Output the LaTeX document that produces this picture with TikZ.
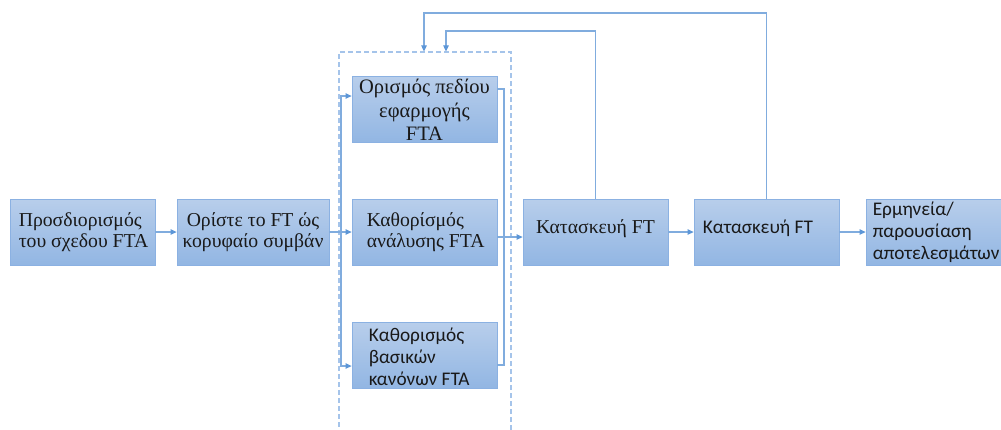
\documentclass[tikz,border=0pt]{standalone}
\usepackage{fontspec}
\setmainfont{Liberation Serif}
\newfontfamily\calfont{Carlito}
\usetikzlibrary{arrows.meta,calc}

\definecolor{boxtop}{RGB}{184,206,235}
\definecolor{boxbot}{RGB}{146,182,227}
\definecolor{boxedge}{RGB}{139,177,226}
\definecolor{wire}{RGB}{128,172,222}
\definecolor{tipc}{RGB}{92,150,215}
\definecolor{dashc}{RGB}{165,196,234}
\definecolor{ink}{RGB}{25,25,25}

\tikzset{
  stepbox/.style={draw=boxedge, line width=0.8pt, top color=boxtop, bottom color=boxbot,
    minimum width=145pt, minimum height=66pt, inner sep=0pt},
  label serif/.style={inner sep=0pt, text=ink, font=\fontsize{19.7}{21.5}\selectfont},
  label sans/.style={inner sep=0pt, text=ink, font=\calfont\fontsize{19.3}{22}\selectfont},
  wireline/.style={draw=wire, line width=1.1pt},
  arr/.style={wireline, -{Triangle[length=6pt,width=5.5pt,color=tipc,fill=tipc]}},
  groupbox/.style={draw=dashc, line width=1.2pt, dash pattern=on 5pt off 3pt,
    minimum width=172pt, minimum height=390pt, inner sep=0pt}
}

\begin{document}
\begin{tikzpicture}[x=1pt,y=-1pt]
\useasboundingbox (0,0) rectangle (1001,429);

% dashed frame around the three definition steps
\node[groupbox] (grp) at (425,247) {};

% process boxes
\node[stepbox] (A) at (82.5,232) {};
\node[stepbox, minimum width=152pt] (B) at (253,232) {};
\node[stepbox] (C1) at (424.5,109) {};
\node[stepbox] (C2) at (424.5,232) {};
\node[stepbox] (C3) at (424.5,355) {};
\node[stepbox] (D) at (595.5,232) {};
\node[stepbox] (E) at (766.5,232) {};
\node[stepbox, minimum width=150pt] (F) at (941,232) {};

% box texts
\node[label serif, anchor=west, align=left] (At) at ([xshift=9pt]A.west)
  {Προσδιορισμός\\του σχεδου FTA};
\node[label serif, align=center] (Bt) at (B.center)
  {Ορίστε το FT ώς\\κορυφαίο συμβάν};
\node[label serif, align=center, font=\fontsize{20.5}{23.5}\selectfont] (C1t) at ([yshift=-1pt]C1.center)
  {Ορισμός πεδίου\\εφαρμογής\\FTA};
\node[label serif, anchor=west, align=left] (C2t) at ([xshift=15pt]C2.west)
  {Καθορίσμός\\ανάλυσης FTA};
\node[label sans, anchor=west, align=left] (C3t) at ([xshift=17pt,yshift=-2pt]C3.west)
  {Καθορισμός\\βασικών\\κανόνων FTA};
\node[label serif] (Dt) at ([yshift=3pt]D.center) {Κατασκευή FT};
\node[label sans, anchor=west] (Et) at ([xshift=9pt,yshift=4pt]E.west) {Κατασκευή FT};
\node[label sans, anchor=west, align=left] (Ft) at ([xshift=7pt]F.west)
  {Ερμηνεία/\\παρουσίαση\\αποτελεσμάτων};

% main flow
\draw[arr] (A.east) -- (B.west);
\draw[arr] (B.east) -- (C2.west);
\coordinate (lbus) at (341,233);
\draw[arr] (lbus) |- ([yshift=13pt]C1.west);
\draw[arr] (lbus) |- ([yshift=-11pt]C3.west);

\coordinate (rbus) at (504,237);
\draw[wireline] ([yshift=20pt]C1.east) -| (rbus);
\draw[wireline] ([yshift=-10pt]C3.east) -| (rbus);
\draw[arr] ([yshift=-5pt]C2.east) -- ([yshift=-5pt]D.west);

\draw[arr] (D.east) -- (E.west);
\draw[arr] (E.east) -- (F.west);

% feedback loops back to the definition steps
\coordinate (fb1) at (446,31);
\coordinate (fb2) at (424,13);
\draw[arr] (D.north) |- (fb1) -- (fb1 |- grp.north);
\draw[arr] (E.north) |- (fb2) -- (fb2 |- grp.north);
\end{tikzpicture}
\end{document}
